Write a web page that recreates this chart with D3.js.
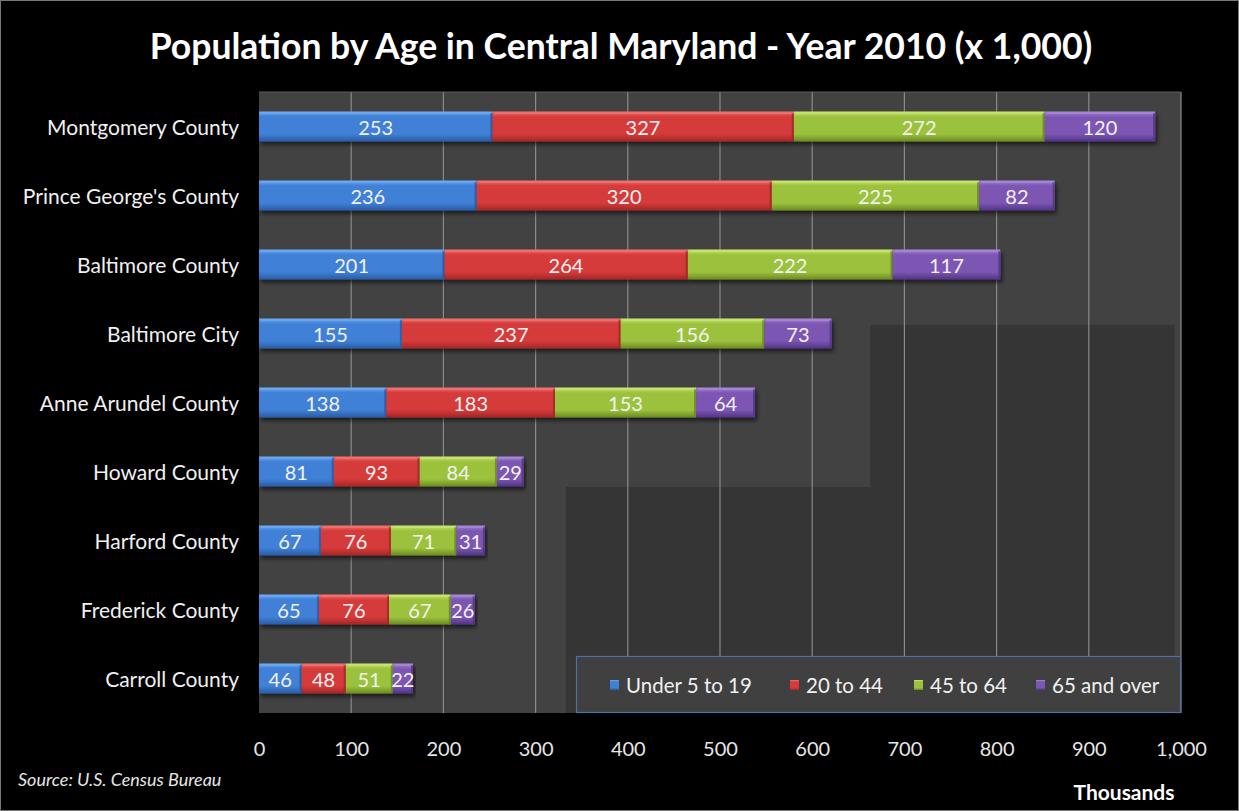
<!DOCTYPE html>
<html><head><meta charset="utf-8">
<script src="https://cdn.jsdelivr.net/npm/d3@7"></script>
<style>html,body{margin:0;padding:0;background:#000;}svg{display:block;}</style>
</head><body>
<script>
const categories = ["Montgomery County","Prince George's County","Baltimore County","Baltimore City","Anne Arundel County","Howard County","Harford County","Frederick County","Carroll County"];
const seriesNames = ["Under 5 to 19","20 to 44","45 to 64","65 and over"];
const under5to19 = [253,236,201,155,138,81,67,65,46];
const age20to44 = [327,320,264,237,183,93,76,76,48];
const age45to64 = [272,225,222,156,153,84,71,67,51];
const age65over = [120,82,117,73,64,29,31,26,22];
const xTicks = [0,100,200,300,400,500,600,700,800,900,1000];
const titleText = "Population by Age in Central Maryland - Year 2010 (x 1,000)";
const sourceText = "Source: U.S. Census Bureau";
const unitText = "Thousands";

const W = 1239, H = 811;
const M = {left:259, right:1181, top:92, bottom:713};
const colors = [
  {top:"#6aa8f0", mid:"#3f80d6", bot:"#2a5ca6"},
  {top:"#f07070", mid:"#d63a3a", bot:"#a32727"},
  {top:"#c8e470", mid:"#9cc23c", bot:"#6b8a22"},
  {top:"#a686d6", mid:"#7b56b2", bot:"#523487"}
];
const font = "Lato, 'Open Sans', sans-serif";

const svg = d3.select("body").append("svg").attr("width",W).attr("height",H);
const defs = svg.append("defs");
colors.forEach((c,i)=>{
  const g = defs.append("linearGradient").attr("id","g"+i).attr("x1",0).attr("y1",0).attr("x2",0).attr("y2",1);
  g.append("stop").attr("offset","0%").attr("stop-color",c.top);
  g.append("stop").attr("offset","18%").attr("stop-color",c.mid);
  g.append("stop").attr("offset","75%").attr("stop-color",c.mid);
  g.append("stop").attr("offset","100%").attr("stop-color",c.bot);
});
const f = defs.append("filter").attr("id","sh").attr("x","-5%").attr("y","-20%").attr("width","115%").attr("height","160%");
f.append("feDropShadow").attr("dx",2).attr("dy",3).attr("stdDeviation",2).attr("flood-color","#000").attr("flood-opacity",0.6);

svg.append("rect").attr("x",0.5).attr("y",0.5).attr("width",W-1).attr("height",H-1).attr("fill","#000").attr("stroke","#777");

const x = d3.scaleLinear().domain([0,1000]).range([M.left,M.right]);
const y = d3.scaleBand().domain(categories).range([M.top,M.bottom]).paddingInner(0.565).paddingOuter(0.2825);

// plot background
svg.append("rect").attr("x",M.left).attr("y",M.top).attr("width",M.right-M.left).attr("height",M.bottom-M.top).attr("fill","#424242");
svg.append("rect").attr("x",x(663)).attr("y",325).attr("width",x(993)-x(663)).attr("height",M.bottom-325).attr("fill","#353535");
svg.append("rect").attr("x",x(333)).attr("y",487).attr("width",x(663)-x(333)).attr("height",M.bottom-487).attr("fill","#353535");

// gridlines
svg.append("g").selectAll("line").data(xTicks.slice(1)).join("line")
  .attr("x1",d=>x(d)).attr("x2",d=>x(d)).attr("y1",M.top).attr("y2",M.bottom)
  .attr("stroke","#8a8a8a").attr("stroke-width",1.2);
svg.append("line").attr("x1",M.left).attr("x2",M.right).attr("y1",M.top).attr("y2",M.top).attr("stroke","#5a5a5a");

// stacked bars
const rows = categories.map((c,i)=>({cat:c, vals:[under5to19[i],age20to44[i],age45to64[i],age65over[i]]}));
const stackData = rows.map(r=>({cat:r.cat, s0:r.vals[0], s1:r.vals[1], s2:r.vals[2], s3:r.vals[3]}));
const stack = d3.stack().keys(["s0","s1","s2","s3"])(stackData);
const gBars = svg.append("g");
stack.forEach((layer,si)=>{
  const g = gBars.append("g");
  g.selectAll("rect").data(layer).join("rect")
    .attr("x",d=>x(d[0])).attr("y",d=>y(d.data.cat))
    .attr("width",d=>x(d[1])-x(d[0])).attr("height",y.bandwidth())
    .attr("fill","url(#g"+si+")").attr("filter","url(#sh)");
});
stack.forEach((layer,si)=>{
  gBars.append("g").selectAll("line").data(layer).join("line")
    .attr("x1",d=>x(d[0])+2).attr("x2",d=>x(d[1])-2)
    .attr("y1",d=>y(d.data.cat)+1.5).attr("y2",d=>y(d.data.cat)+1.5)
    .attr("stroke",colors[si].top).attr("stroke-width",2).attr("opacity",0.9);
  gBars.append("g").selectAll("line").data(layer).join("line")
    .attr("x1",d=>x(d[1])-1).attr("x2",d=>x(d[1])-1)
    .attr("y1",d=>y(d.data.cat)+2).attr("y2",d=>y(d.data.cat)+y.bandwidth())
    .attr("stroke",colors[si].bot).attr("stroke-width",2).attr("opacity",0.8);
});
stack.forEach((layer,si)=>{
  gBars.append("g").selectAll("text").data(layer).join("text")
    .attr("x",d=>(x(d[0])+x(d[1]))/2).attr("y",d=>y(d.data.cat)+y.bandwidth()/2)
    .attr("text-anchor","middle").attr("dominant-baseline","central")
    .attr("fill","#f2f2f2").attr("font-family",font).attr("font-size",20)
    .text(d=>d[1]-d[0]);
});

// category labels
svg.append("g").selectAll("text").data(categories).join("text")
  .attr("x",239).attr("y",d=>y(d)+y.bandwidth()/2)
  .attr("text-anchor","end").attr("dominant-baseline","central")
  .attr("fill","#f0f0f0").attr("font-family",font).attr("font-size",21)
  .text(d=>d);

// x axis
const xAxis = d3.axisBottom(x).tickValues(xTicks).tickFormat(d3.format(",")).tickSize(0).tickPadding(0);
const ax = svg.append("g").attr("transform",`translate(0,${M.bottom})`).call(xAxis);
ax.select(".domain").remove();
ax.selectAll("text").attr("y",35).attr("dy",0).attr("dominant-baseline","central")
  .attr("fill","#e6e6e6").attr("font-family",font).attr("font-size",20);

// legend
const lg = svg.append("g");
lg.append("rect").attr("x",576.5).attr("y",656.5).attr("width",604).attr("height",56)
  .attr("fill","#404040").attr("stroke","#4a72a8").attr("stroke-width",1.2);
const legX = [610,790,914,1036];
seriesNames.forEach((n,i)=>{
  lg.append("rect").attr("x",legX[i]).attr("y",680).attr("width",9).attr("height",10).attr("fill","url(#g"+i+")");
  lg.append("text").attr("x",legX[i]+16).attr("y",685).attr("dominant-baseline","central")
    .attr("fill","#f0f0f0").attr("font-family",font).attr("font-size",20.5).text(n);
});

// title
const t = svg.append("text").attr("x",621).attr("y",45).attr("text-anchor","middle").attr("dominant-baseline","central")
  .attr("fill","#fff").attr("font-family",font).attr("font-weight","bold").attr("font-size",34).text(titleText);
const tw = t.node().getComputedTextLength();
t.attr("font-size",34*943/tw);

svg.append("text").attr("x",1124).attr("y",791).attr("text-anchor","middle").attr("dominant-baseline","central")
  .attr("fill","#fff").attr("font-family",font).attr("font-weight","bold").attr("font-size",21).text(unitText);
svg.append("text").attr("x",18).attr("y",779).attr("dominant-baseline","central")
  .attr("fill","#e6e6e6").attr("font-family",font).attr("font-style","italic").attr("font-size",18).text(sourceText);
</script>
</body></html>
